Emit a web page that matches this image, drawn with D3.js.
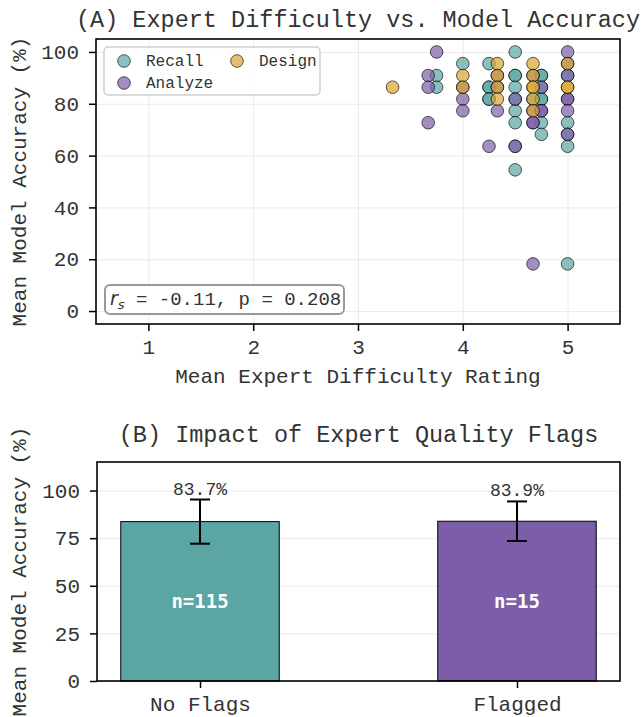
<!DOCTYPE html>
<html>
<head>
<meta charset="utf-8">
<script src="https://cdn.jsdelivr.net/npm/d3@7"></script>
<style>
  body { margin: 0; background: #fff; }
  svg text { font-family: "Liberation Mono", "Courier New", monospace; fill: #333; }
</style>
</head>
<body>
<svg id="chart" width="643" height="717"></svg>
<script>
// ---- panel A data: [mean expert difficulty, mean model accuracy %]
const categories = ["Recall", "Analyze", "Design"]
const categoryColors = ["#5BA5A3", "#7B5EA7", "#D9A52F"]

const recallPoints = [
  [3.75, 90.9], [3.75, 86.4],
  [4.0, 95.5],
  [4.25, 95.5], [4.25, 86.4], [4.25, 86.4], [4.25, 81.8], [4.25, 81.8],
  [4.5, 100], [4.5, 90.9], [4.5, 90.9], [4.5, 86.4], [4.5, 81.8], [4.5, 77.3],
  [4.5, 72.7], [4.5, 63.6], [4.5, 54.5],
  [4.67, 81.8],
  [4.75, 90.9], [4.75, 90.9], [4.75, 86.4], [4.75, 81.8], [4.75, 81.8],
  [4.75, 72.7], [4.75, 68.2],
  [5.0, 90.9], [5.0, 72.7], [5.0, 68.2], [5.0, 63.6], [5.0, 18.2]
]
const analyzePoints = [
  [3.67, 90.9], [3.67, 86.4], [3.67, 72.7], [3.75, 100],
  [4.0, 86.4], [4.0, 81.8], [4.0, 77.3],
  [4.25, 63.6],
  [4.33, 90.9], [4.33, 86.4], [4.33, 77.3],
  [4.5, 81.8], [4.5, 63.6],
  [4.67, 90.9], [4.67, 77.3], [4.67, 72.7], [4.67, 72.7], [4.67, 18.2],
  [4.75, 86.4], [4.75, 77.3], [4.75, 77.3],
  [5.0, 100], [5.0, 95.5], [5.0, 90.9], [5.0, 81.8], [5.0, 81.8], [5.0, 77.3], [5.0, 68.2]
]
const designPoints = [
  [3.33, 86.4],
  [4.0, 90.9], [4.0, 86.4],
  [4.33, 95.5], [4.33, 90.9], [4.33, 86.4], [4.33, 81.8],
  [4.67, 95.5], [4.67, 90.9], [4.67, 86.4], [4.67, 86.4], [4.67, 81.8], [4.67, 77.3],
  [5.0, 95.5], [5.0, 86.4], [5.0, 86.4]
]
const xTicksA = [1, 2, 3, 4, 5]
const yTicksA = [0, 20, 40, 60, 80, 100]
const spearmanR = -0.11
const spearmanP = 0.208

// ---- panel B data
const groups = ["No Flags", "Flagged"]
const groupMeans = [83.7, 83.9]
const groupErrors = [11.6, 10.4]
const groupCounts = [115, 15]
const barColors = ["#5BA5A3", "#7B5EA7"]
const yTicksB = [0, 25, 50, 75, 100]

const svg = d3.select('#chart')

const styleAxis = (g) => {
  g.select('.domain').remove()
  g.selectAll('.tick line').attr('stroke', '#000').attr('stroke-width', 1.5)
  g.selectAll('.tick text').style('font-size', '21px').attr('fill', '#333')
}

// ================= Panel A =================
const boxA = { left: 96, right: 620, top: 39, bottom: 324 }
const xA = d3.scaleLinear().domain([0.5, 5.5]).range([boxA.left, boxA.right])
const yA = d3.scaleLinear().domain([-5, 105]).range([boxA.bottom, boxA.top])

const gA = svg.append('g')

// grid
gA.append('g')
  .attr('transform', 'translate(0,' + boxA.bottom + ')')
  .call(d3.axisBottom(xA).tickValues(xTicksA).tickSize(-(boxA.bottom - boxA.top)).tickFormat(''))
  .call(g => g.select('.domain').remove())
  .selectAll('line').attr('stroke', '#e6e6e6').attr('stroke-width', 0.8)
gA.append('g')
  .attr('transform', 'translate(' + boxA.left + ',0)')
  .call(d3.axisLeft(yA).tickValues(yTicksA).tickSize(-(boxA.right - boxA.left)).tickFormat(''))
  .call(g => g.select('.domain').remove())
  .selectAll('line').attr('stroke', '#e6e6e6').attr('stroke-width', 0.8)

// points, drawn in legend order
const pointSets = [recallPoints, analyzePoints, designPoints]
pointSets.forEach((pts, i) => {
  gA.append('g')
    .selectAll('circle')
    .data(pts)
    .enter()
    .append('circle')
    .attr('cx', d => xA(d[0]))
    .attr('cy', d => yA(d[1]))
    .attr('r', 6.3)
    .attr('fill', categoryColors[i])
    .attr('fill-opacity', 0.7)
    .attr('stroke', '#000')
    .attr('stroke-opacity', 0.7)
    .attr('stroke-width', 0.9)
})

// axes
gA.append('g')
  .attr('transform', 'translate(0,' + boxA.bottom + ')')
  .call(d3.axisBottom(xA).tickValues(xTicksA).tickFormat(d3.format('d')).tickSize(7).tickPadding(8))
  .call(styleAxis)
gA.append('g')
  .attr('transform', 'translate(' + boxA.left + ',0)')
  .call(d3.axisLeft(yA).tickValues(yTicksA).tickSize(7).tickPadding(10))
  .call(styleAxis)

gA.append('rect')
  .attr('x', boxA.left).attr('y', boxA.top)
  .attr('width', boxA.right - boxA.left).attr('height', boxA.bottom - boxA.top)
  .attr('fill', 'none').attr('stroke', '#000').attr('stroke-width', 1.6)

// legend (column-major, 2 cols)
const legend = gA.append('g')
legend.append('rect')
  .attr('x', 104).attr('y', 47).attr('width', 216).attr('height', 48).attr('rx', 4)
  .attr('fill', '#fff').attr('fill-opacity', 0.8)
  .attr('stroke', '#d0d0d0').attr('stroke-width', 1.5)
const legendPos = [[124, 61], [124, 83], [237, 61]]
categories.forEach((c, i) => {
  legend.append('circle')
    .attr('cx', legendPos[i][0]).attr('cy', legendPos[i][1]).attr('r', 6.3)
    .attr('fill', categoryColors[i]).attr('fill-opacity', 0.7)
    .attr('stroke', '#000').attr('stroke-opacity', 0.7).attr('stroke-width', 0.9)
  legend.append('text')
    .attr('x', legendPos[i][0] + 22).attr('y', legendPos[i][1] + 5)
    .style('font-size', '16px')
    .text(c)
})

// correlation box
gA.append('rect')
  .attr('x', 105).attr('y', 285).attr('width', 239).attr('height', 29).attr('rx', 5)
  .attr('fill', '#fff').attr('stroke', '#999').attr('stroke-width', 2)
const stat = gA.append('text').attr('x', 110).attr('y', 305).style('font-size', '19px').attr('fill', '#111')
stat.append('tspan').style('font-family', '"DejaVu Sans", sans-serif').style('font-style', 'italic').text('r')
stat.append('tspan').style('font-family', '"DejaVu Sans", sans-serif').style('font-style', 'italic')
  .style('font-size', '13px').attr('dy', 4).text('s')
stat.append('tspan').attr('dy', -4).text(' = ' + spearmanR.toFixed(2) + ', p = ' + spearmanP.toFixed(3))

// titles
gA.append('text').attr('x', (boxA.left + boxA.right) / 2).attr('y', 27)
  .attr('text-anchor', 'middle').style('font-size', '23.5px')
  .text('(A) Expert Difficulty vs. Model Accuracy')
gA.append('text').attr('x', (boxA.left + boxA.right) / 2).attr('y', 383)
  .attr('text-anchor', 'middle').style('font-size', '21px')
  .text('Mean Expert Difficulty Rating')
gA.append('text')
  .attr('transform', 'translate(26,' + (boxA.top + boxA.bottom) / 2 + ') rotate(-90)')
  .attr('text-anchor', 'middle').style('font-size', '21px')
  .text('Mean Model Accuracy (%)')

// ================= Panel B =================
const boxB = { left: 97, right: 620, top: 462, bottom: 681 }
const xB = d3.scaleLinear().domain([-0.325, 1.325]).range([boxB.left, boxB.right])
const yB = d3.scaleLinear().domain([0, 115]).range([boxB.bottom, boxB.top])
const barW = 0.5

const gB = svg.append('g')

gB.append('g')
  .attr('transform', 'translate(' + boxB.left + ',0)')
  .call(d3.axisLeft(yB).tickValues(yTicksB).tickSize(-(boxB.right - boxB.left)).tickFormat(''))
  .call(g => g.select('.domain').remove())
  .selectAll('line').attr('stroke', '#e6e6e6').attr('stroke-width', 0.8)

gB.selectAll('rect.bar')
  .data(groups)
  .enter()
  .append('rect')
  .attr('class', 'bar')
  .attr('x', (d, i) => xB(i - barW / 2))
  .attr('width', (d, i) => xB(i + barW / 2) - xB(i - barW / 2))
  .attr('y', (d, i) => yB(groupMeans[i]))
  .attr('height', (d, i) => yB(0) - yB(groupMeans[i]))
  .attr('fill', (d, i) => barColors[i])
  .attr('stroke', '#000')
  .attr('stroke-width', 1)

// error bars
groups.forEach((g, i) => {
  const cx = xB(i)
  const lo = yB(groupMeans[i] - groupErrors[i])
  const hi = yB(groupMeans[i] + groupErrors[i])
  gB.append('line').attr('x1', cx).attr('x2', cx).attr('y1', lo).attr('y2', hi)
    .attr('stroke', '#000').attr('stroke-width', 2)
  ;[lo, hi].forEach(yy => {
    gB.append('line').attr('x1', cx - 10).attr('x2', cx + 10).attr('y1', yy).attr('y2', yy)
      .attr('stroke', '#000').attr('stroke-width', 2)
  })
  gB.append('text').attr('x', cx).attr('y', hi - 5)
    .attr('text-anchor', 'middle').style('font-size', '18px').attr('fill', '#444')
    .text(groupMeans[i].toFixed(1) + '%')
  gB.append('text').attr('x', cx).attr('y', yB(groupMeans[i] / 2)).attr('dy', '0.35em')
    .attr('text-anchor', 'middle')
    .style('font-family', '"DejaVu Sans Mono", monospace')
    .style('font-size', '19px').style('font-weight', 'bold').style('fill', '#fff')
    .text('n=' + groupCounts[i])
})

gB.append('g')
  .attr('transform', 'translate(0,' + boxB.bottom + ')')
  .call(d3.axisBottom(xB).tickValues([0, 1]).tickFormat(i => groups[i]).tickSize(7).tickPadding(8))
  .call(styleAxis)
gB.append('g')
  .attr('transform', 'translate(' + boxB.left + ',0)')
  .call(d3.axisLeft(yB).tickValues(yTicksB).tickSize(7).tickPadding(10))
  .call(styleAxis)

gB.append('rect')
  .attr('x', boxB.left).attr('y', boxB.top)
  .attr('width', boxB.right - boxB.left).attr('height', boxB.bottom - boxB.top)
  .attr('fill', 'none').attr('stroke', '#000').attr('stroke-width', 1.6)

gB.append('text').attr('x', (boxB.left + boxB.right) / 2).attr('y', 442)
  .attr('text-anchor', 'middle').style('font-size', '23.5px')
  .text('(B) Impact of Expert Quality Flags')
gB.append('text')
  .attr('transform', 'translate(26,' + (boxB.top + boxB.bottom) / 2 + ') rotate(-90)')
  .attr('text-anchor', 'middle').style('font-size', '21px')
  .text('Mean Model Accuracy (%)')
</script>
</body>
</html>
